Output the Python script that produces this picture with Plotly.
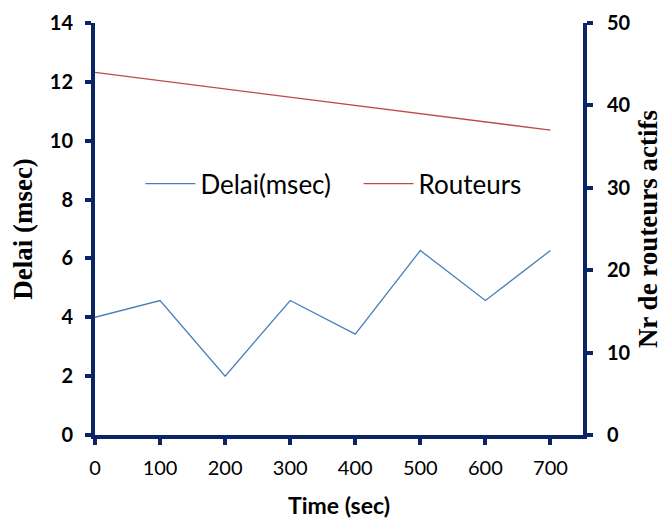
import plotly.graph_objects as go

time_sec = [0, 100, 200, 300, 400, 500, 600, 700]
delai_msec = [4.0, 4.57, 2.0, 4.57, 3.43, 6.27, 4.57, 6.27]
routeurs = [44, 43, 42, 41, 40, 39, 38, 37]

navy = "#0b2467"
sans = "Lato, Open Sans, sans-serif"
serif = "Liberation Serif, serif"

fig = go.Figure()
fig.add_trace(go.Scatter(x=time_sec, y=delai_msec, mode="lines", name="Delai(msec)",
                         line=dict(color="#4a7ebb", width=1.3), legend="legend"))
fig.add_trace(go.Scatter(x=time_sec, y=routeurs, mode="lines", name="Routeurs", yaxis="y2",
                         line=dict(color="#be4b48", width=1.3), legend="legend2"))

leg_common = dict(orientation="h", yanchor="middle", xanchor="left",
                  font=dict(family=sans, size=26, color="black"),
                  bgcolor="rgba(0,0,0,0)", itemwidth=50)

fig.update_layout(
    width=667, height=519,
    margin=dict(l=95, r=84, t=23, b=84),
    paper_bgcolor="white", plot_bgcolor="white",
    showlegend=True,
    legend=dict(x=0.093, y=0.61, **leg_common),
    legend2=dict(x=0.54, y=0.61, **leg_common),
    xaxis=dict(range=[0, 750], tickvals=time_sec, showgrid=False, zeroline=False, automargin=False,
               showline=True, linecolor=navy, linewidth=4,
               ticks="outside", ticklen=6, tickwidth=4, tickcolor=navy, ticklabelstandoff=6,
               tickfont=dict(family=sans, size=20, color="black"),
               title=dict(text="<b>Time (sec)</b>", standoff=22,
                          font=dict(family=sans, size=23, color="black"))),
    yaxis=dict(range=[0, 14], dtick=2, showgrid=False, zeroline=False, automargin=False,
               showline=True, linecolor=navy, linewidth=4,
               ticks="outside", ticklen=6, tickwidth=4, tickcolor=navy, ticklabelstandoff=8,
               tickfont=dict(family=sans, size=20, color="black", weight="bold"),
               title=dict(text="<b>Delai (msec)</b>", standoff=10,
                          font=dict(family=serif, size=27, color="black"))),
    yaxis2=dict(range=[0, 50], dtick=10, overlaying="y", side="right", showgrid=False, zeroline=False,
                automargin=False,
                showline=True, linecolor=navy, linewidth=4,
                ticks="outside", ticklen=6, tickwidth=4, tickcolor=navy, ticklabelstandoff=10,
                tickfont=dict(family=sans, size=20, color="black", weight="bold"),
                title=dict(text="<b>Nr de routeurs actifs</b>", standoff=10,
                           font=dict(family=serif, size=27, color="black"))),
)

fig.write_html("out.html")
